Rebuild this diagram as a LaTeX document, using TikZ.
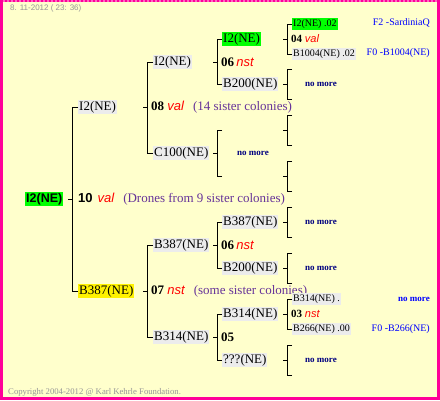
\documentclass[tikz,border=0pt]{standalone}
\usepackage{fontspec}
\setmainfont{Liberation Serif}
\newfontfamily\beesans{Liberation Sans}

\definecolor{bgyellow}{RGB}{255,255,204}
\definecolor{framepink}{RGB}{255,0,153}
\definecolor{namegray}{RGB}{236,236,236}
\definecolor{sispurple}{RGB}{102,51,153}
\definecolor{navyblue}{RGB}{0,0,128}
\definecolor{linkblue}{RGB}{0,0,255}
\definecolor{beegreen}{RGB}{0,255,0}
\definecolor{stampgray}{RGB}{150,150,150}

\tikzset{
  bee/.style={anchor=west, fill=namegray, inner sep=1pt, font=\fontsize{13}{13}\selectfont},
  beesmall/.style={bee, font=\fontsize{10}{10}\selectfont},
  mate/.style={anchor=west, inner sep=1pt, font=\fontsize{13}{13}\selectfont},
  matesmall/.style={mate, font=\fontsize{11}{11}\selectfont},
  nomore/.style={anchor=west, inner sep=0pt, text=navyblue, font=\fontsize{9}{9}\selectfont\bfseries},
  origin/.style={anchor=east, inner sep=0pt, text=linkblue, font=\fontsize{10}{10}\selectfont},
  fork/.style={line width=1pt},
}
\newcommand{\vl}{\textcolor{red}{\beesans\itshape val}}
\newcommand{\ns}{\textcolor{red}{\beesans\itshape nst}}
\newcommand{\sis}[1]{\textcolor{sispurple}{(#1)}}

\begin{document}
\begin{tikzpicture}[x=1pt,y=-1pt]
\useasboundingbox (0,0) rectangle (440,400);
% frame
\fill[framepink] (0,0) rectangle (440,400);
\fill[bgyellow] (3,2) rectangle (437,397);
\draw[framepink!60, line width=2pt, dash pattern=on 2pt off 2pt] (3,1) -- (437,1);
\node[anchor=west, inner sep=0pt, text=stampgray, font=\beesans\fontsize{8}{8}\selectfont] (stamp) at (10,8) {8. 11-2012 ( 23: 36)};
\node[anchor=west, inner sep=0pt, text=stampgray, font=\fontsize{8.7}{8.7}\selectfont] (copy) at (8,392) {Copyright 2004-2012 @ Karl Kehrle Foundation.};

% generation 0
\node[bee, fill=beegreen, font=\beesans\bfseries\fontsize{12.5}{12.5}\selectfont] (g0) at (25,199) {I2(NE)};
\node[mate] (m0) at (77,199) {{\beesans\bfseries 10}\hspace{5pt}\vl\hspace{9pt}\sis{Drones from 9 sister colonies}};

% generation 1
\node[bee] (g1a) at (78,107) {I2(NE)};
\node[bee, fill=yellow] (g1b) at (78,291) {B387(NE)};
\node[mate] (m1a) at (150,107) {\textbf{08} \vl\hspace{9pt}\sis{14 sister colonies}};
\node[mate] (m1b) at (150,291) {\textbf{07} \ns\hspace{9pt}\sis{some sister colonies}};

% generation 2
\node[bee] (g2a) at (153,62) {I2(NE)};
\node[bee] (g2b) at (153,153) {C100(NE)};
\node[bee] (g2c) at (153,245) {B387(NE)};
\node[bee] (g2d) at (153,337) {B314(NE)};
\node[mate] (m2a) at (220,62) {\textbf{06}\,\ns};
\node[nomore] (m2b) at (237,153) {no more};
\node[mate] (m2c) at (220,245) {\textbf{06}\,\ns};
\node[mate] (m2d) at (220,337) {\textbf{05}};

% generation 3
\node[bee, fill=beegreen] (g3a) at (222,39) {I2(NE)};
\node[bee] (g3b) at (222,84) {B200(NE)};
\node[bee] (g3c) at (222,222) {B387(NE)};
\node[bee] (g3d) at (222,268) {B200(NE)};
\node[bee] (g3e) at (222,314) {B314(NE)};
\node[bee] (g3f) at (222,360) {???(NE)};
\coordinate (g3x) at (222,130);
\coordinate (g3y) at (222,176);

% generation 4
\node[beesmall, fill=beegreen] (g4a) at (292,24) {I2(NE) .02};
\node[beesmall] (g4b) at (292,54) {B1004(NE) .02};
\node[matesmall] (m3a) at (290,39) {\textbf{04} \vl};
\node[nomore] (m3b) at (305,84) {no more};
\node[nomore] (m3c) at (305,222) {no more};
\node[nomore] (m3d) at (305,268) {no more};
\node[beesmall] (g4c) at (292,299) {B314(NE) .};
\node[beesmall] (g4d) at (292,329) {B266(NE) .00};
\node[matesmall] (m3e) at (290,314) {\textbf{03} \ns};
\node[nomore] (m3f) at (305,360) {no more};
\foreach \y/\n in {69/a,99/b,115/c,145/d,161/e,191/f,207/g,237/h,253/i,283/j,345/k,375/l}
  \coordinate (e\n) at (292,\y);

% origins
\node[origin] (o1) at (430,23) {F2 -SardiniaQ};
\node[origin] (o2) at (430,53) {F0 -B1004(NE)};
\node[origin, font=\fontsize{9}{9}\selectfont\bfseries] (o3) at (430,299) {no more};
\node[origin] (o4) at (430,329) {F0 -B266(NE)};

% forks
\foreach \up/\dn/\x/\y in {g1a/g1b/72/199, g2a/g2b/147/107, g2c/g2d/147/291,
    g3a/g3b/217/62, g3x/g3y/217/153, g3c/g3d/217/245, g3e/g3f/217/337,
    g4a/g4b/287/39, ea/eb/287/84, ec/ed/287/130, ee/ef/287/176,
    eg/eh/287/222, ei/ej/287/268, g4c/g4d/287/314, ek/el/287/360}{
  \coordinate (f) at (\x,\y);
  \draw[fork] (\up.west) -| (f);
  \draw[fork] (\dn.west) -| (f);
  \draw[fork] (f) -- ++(-4,0);
}
\end{tikzpicture}
\end{document}
